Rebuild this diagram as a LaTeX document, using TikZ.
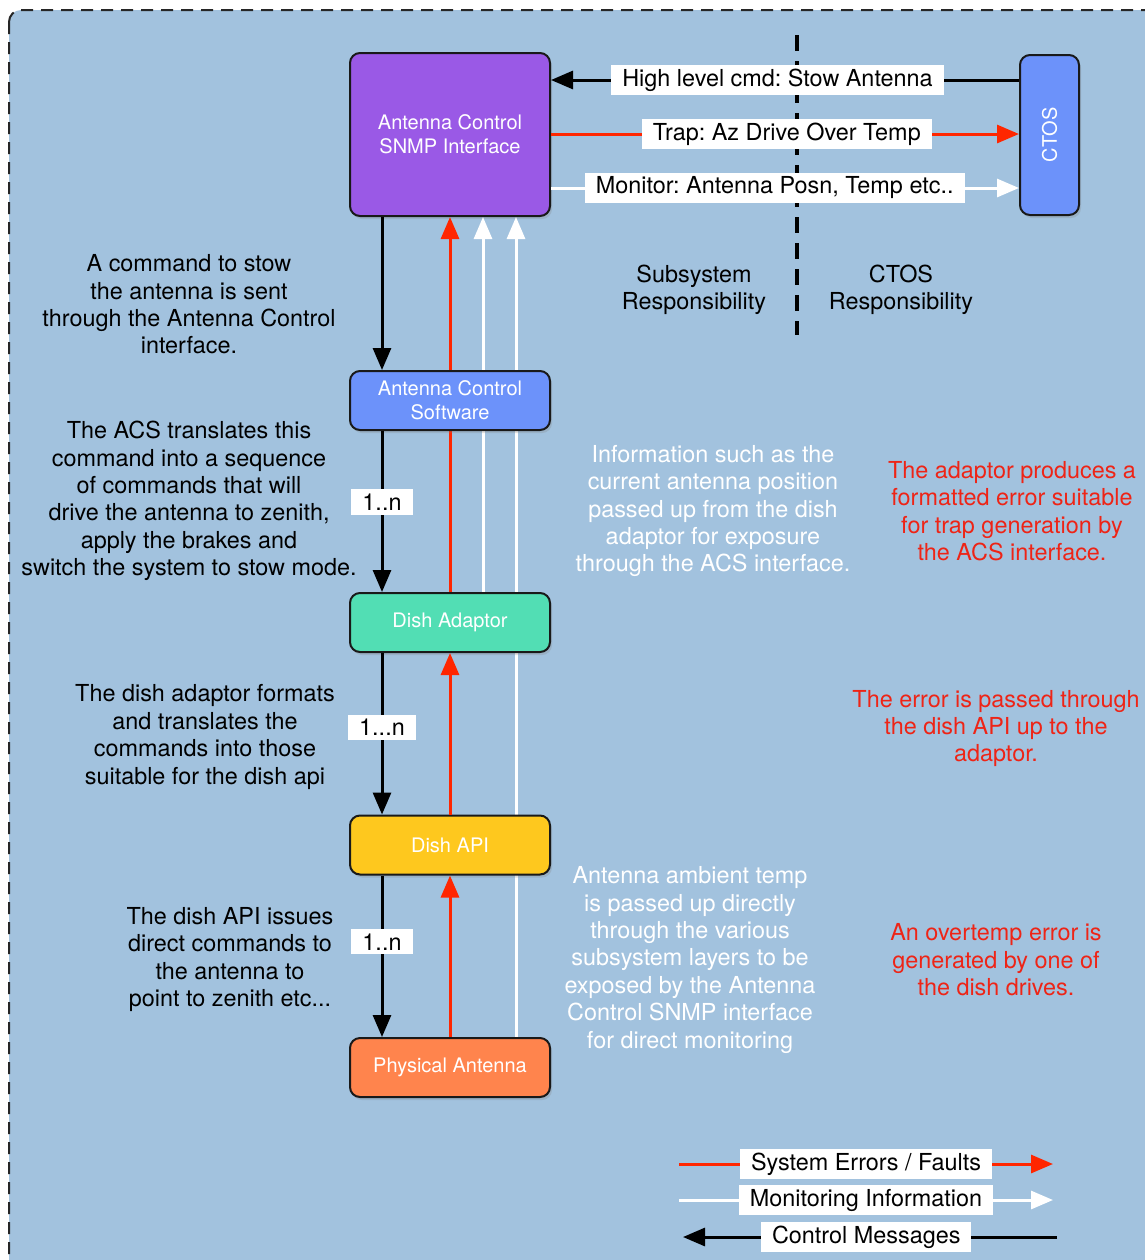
\documentclass[tikz,border=0pt]{standalone}
\usepackage{fontspec}
\setmainfont{TeX Gyre Heros}
\frenchspacing
\usetikzlibrary{arrows.meta,shadows}

\definecolor{panelblue}{RGB}{162,194,222}
\definecolor{snmppurple}{RGB}{154,89,230}
\definecolor{swblue}{RGB}{108,146,250}
\definecolor{adaptorgreen}{RGB}{82,222,180}
\definecolor{apiyellow}{RGB}{254,200,30}
\definecolor{antorange}{RGB}{255,132,77}
\definecolor{faultred}{RGB}{255,38,0}
\definecolor{notered}{RGB}{238,36,22}

\tikzset{
  panel/.style={fill=panelblue, draw=black!85, line width=1pt,
    dash pattern=on 6pt off 4pt, rounded corners=6pt},
  block/.style={draw=black!90, line width=1pt, rounded corners=5pt,
    text=white, align=center, minimum width=100pt,
    font=\fontsize{10}{12}\selectfont,
    drop shadow={opacity=0.25, shadow xshift=1pt, shadow yshift=-1.5pt}},
  lbl/.style={fill=white, inner xsep=5.5pt, inner ysep=1.8pt,
    font=\fontsize{11.7}{13.5}\selectfont, text=black},
  mult/.style={fill=white, inner xsep=5.5pt, inner ysep=2.2pt,
    font=\fontsize{11.7}{13.5}\selectfont, text=black},
  note/.style={align=center, font=\fontsize{11.7}{13.7}\selectfont},
  tip/.style={-{Triangle[length=11pt,width=9pt]}},
  ctrl/.style={tip, draw=black, line width=1.5pt},
  fault/.style={tip, draw=faultred, line width=1.5pt},
  monitor/.style={tip, draw=white, line width=1.5pt},
  divider/.style={draw=black, line width=1.6pt, dash pattern=on 8pt off 5pt},
}

\begin{document}
\begin{tikzpicture}[x=0.5pt,y=-0.5pt]
\useasboundingbox (0,0) rectangle (1145,1260);
\clip (0,0) rectangle (1145,1260);
\fill[white] (0,0) rectangle (1145,1260);

% background panel
\draw[panel] (9,10) rectangle (1175,1300);

% responsibility divider, behind the flow labels
\coordinate (dtop) at (797,35);
\coordinate (dbot) at (797,335);
\draw[divider] (dtop) -- (dbot);

% x positions of the vertical flows and y positions of the top flows
\coordinate (xc) at (382,0);
\coordinate (xf) at (450,0);
\coordinate (xm1) at (483,0);
\coordinate (xm2) at (516,0);
\coordinate (yc) at (0,80);
\coordinate (yf) at (0,134);
\coordinate (ym) at (0,188);

% blocks
\node[block, fill=snmppurple, minimum height=81.5pt] (snmp) at (450,134.5)
  {Antenna Control\\SNMP Interface};
\node[block, fill=swblue, minimum width=29.5pt, minimum height=80pt] (ctos) at (1049.5,135)
  {};
\node[text=white, rotate=90, font=\fontsize{10}{12}\selectfont] (ctostext) at (ctos.center) {CTOS};

% upward lines passing behind the lower blocks are drawn first
\draw[fault] (xf |- 0,593) coordinate (fa) -- (snmp.south -| xf);
\draw[monitor] (xm1 |- 0,593) coordinate (ma) -- (snmp.south -| xm1);
\draw[monitor] (xm2 |- 0,1038) coordinate (mb) -- (snmp.south -| xm2);

\node[block, fill=swblue, minimum height=29.5pt] (acs) at (450,400.5)
  {Antenna Control\\Software};
\node[block, fill=adaptorgreen, minimum height=29.5pt] (adaptor) at (450,622.5)
  {Dish Adaptor};
\node[block, fill=apiyellow, minimum height=29.5pt] (api) at (450,845)
  {Dish API};
\node[block, fill=antorange, minimum height=29.5pt] (antenna) at (450,1067.5)
  {Physical Antenna};

% control chain
\draw[ctrl] (snmp.south -| xc) -- (acs.north -| xc);
\draw[ctrl] (acs.south -| xc) -- node[mult, pos=0.44] (m1) {1..n} (adaptor.north -| xc);
\draw[ctrl] (adaptor.south -| xc) -- node[mult, pos=0.46] (m2) {1...n} (api.north -| xc);
\draw[ctrl] (api.south -| xc) -- node[mult, pos=0.41] (m3) {1..n} (antenna.north -| xc);

% fault chain
\draw[fault] (api.north -| xf) -- (adaptor.south -| xf);
\draw[fault] (antenna.north -| xf) -- (api.south -| xf);

% flows to and from CTOS
\draw[ctrl] (ctos.west |- yc) -- node[lbl, pos=0.516] (l1) {High level cmd: Stow Antenna} (snmp.east |- yc);
\draw[fault] (snmp.east |- yf) -- node[lbl, pos=0.504] (l2) {Trap: Az Drive Over Temp} (ctos.west |- yf);
\draw[monitor] (snmp.east |- ym) -- node[lbl, pos=0.478] (l3) {Monitor: Antenna Posn, Temp etc..} (ctos.west |- ym);

\node[note] (subresp) at (694,290) {Subsystem\\Responsibility};
\node[note] (ctosresp) at (901,290) {CTOS\\Responsibility};

% explanations of the control chain
\node[note] (n1) at (189,304.5) {A command to stow\\the antenna is sent\\through the Antenna Control\\interface.};
\node[note] (n2) at (189,501) {The ACS translates this\\command into a sequence\\of commands that will\\drive the antenna to zenith,\\apply the brakes and\\switch the system to stow mode.};
\node[note] (n3) at (205,737) {The dish adaptor formats\\and translates the\\commands into those\\suitable for the dish api};
\node[note] (n4) at (230,959.5) {The dish API issues\\direct commands to\\the antenna to\\point to zenith etc...};

% explanations of the monitoring flow
\node[note, text=white] (w1) at (713,511) {Information such as the\\current antenna position\\passed up from the dish\\adaptor for exposure\\through the ACS interface.};
\node[note, text=white] (w2) at (690,960) {Antenna ambient temp\\is passed up directly\\through the various\\subsystem layers to be\\exposed by the Antenna\\Control SNMP interface\\for direct monitoring};

% explanations of the fault flow
\node[note, text=notered] (r1) at (1012,511) {The adaptor produces a\\formatted error suitable\\for trap generation by\\the ACS interface.};
\node[note, text=notered] (r2) at (996,728.5) {The error is passed through\\the dish API up to the\\adaptor.};
\node[note, text=notered] (r3) at (996,960) {An overtemp error is\\generated by one of\\the dish drives.};

% legend
\coordinate (ga) at (679,1164);
\coordinate (gb) at (1053,1164);
\coordinate (ha) at (679,1200);
\coordinate (hb) at (1053,1200);
\coordinate (ia) at (1057,1237);
\coordinate (ib) at (683,1237);
\draw[fault] (ga) -- node[lbl, pos=0.5] (k1) {System Errors / Faults} (gb);
\draw[monitor] (ha) -- node[lbl, pos=0.5] (k2) {Monitoring Information} (hb);
\draw[ctrl] (ia) -- node[lbl, pos=0.51] (k3) {Control Messages} (ib);
\end{tikzpicture}
\end{document}
